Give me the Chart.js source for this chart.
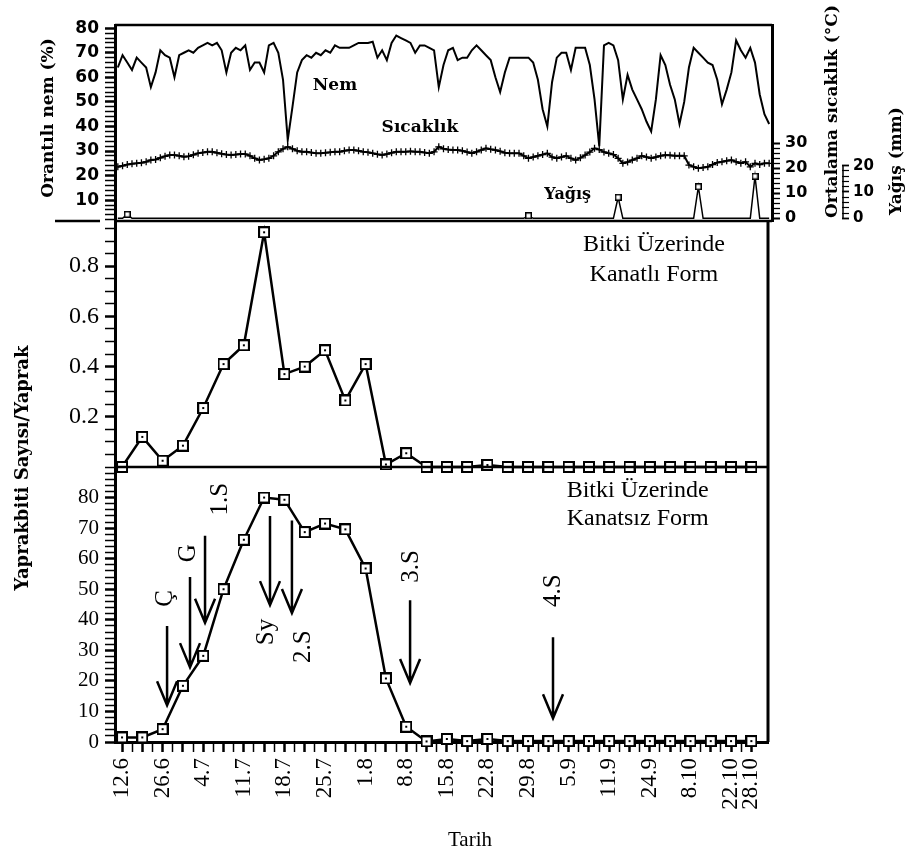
<!DOCTYPE html>
<html>
<head>
<meta charset="utf-8">
<script src="https://cdn.jsdelivr.net/npm/chart.js@4.4.1/dist/chart.umd.min.js"></script>
<style>
  body { margin: 0; background: #fff; }
  #wrap { position: relative; width: 914px; height: 855px; }
  #wrap canvas { position: absolute; left: 0; top: 0; }
</style>
</head>
<body>
<div id="wrap">
  <canvas id="top" width="914" height="855"></canvas>
  <canvas id="mid" width="914" height="855"></canvas>
  <canvas id="bot" width="914" height="855"></canvas>
</div>
<script>
// daily weather, day 0 = 12.6, last day = 28.10
const nem = [
  64, 69, 66, 63, 68, 66, 64, 56, 62, 71,
  69, 68, 60, 69, 70, 71, 70, 72, 73, 74,
  73, 74, 71, 62, 70, 72, 71, 73, 63, 66,
  66, 62, 73, 74, 70, 59, 34.5, 48, 62, 67,
  69, 68, 70, 69, 71, 70, 73, 72, 72, 72,
  73, 74, 74, 74, 74.5, 68, 71, 67, 74, 77,
  76, 75, 74, 70, 73, 73, 72, 71, 56, 65,
  71, 72, 67, 68, 68, 71, 73, 71, 69, 67,
  60, 54, 62, 68, 68, 68, 68, 68, 66, 59,
  47, 40, 58, 68, 70, 70, 63, 72, 72, 72,
  65, 51, 32, 73, 74, 73, 67, 51, 61, 55,
  51, 47, 42, 38, 51, 69, 65, 57, 51, 41,
  50, 64, 72, 70, 68, 66, 65, 59, 49, 55,
  62, 75, 71, 68, 72, 66, 53, 45, 41
];
const sicaklik = [
  20.6, 21, 21.5, 21.8, 22, 22.2, 22.6, 23.3, 23.5, 24.2,
  24.8, 25.3, 25.3, 25, 24.6, 24.8, 25.4, 26, 26.3, 26.6,
  26.6, 26.2, 25.8, 25.5, 25.3, 25.5, 25.7, 25.7, 25, 24,
  23.3, 23.6, 24, 25, 26.6, 27.8, 28.6, 27.8, 27, 26.6,
  26.6, 26.3, 26, 26, 26.2, 26.4, 26.6, 26.6, 27, 27.3,
  27.3, 27, 26.6, 26.4, 26, 25.6, 25.3, 25.7, 26.2, 26.6,
  26.6, 26.6, 26.8, 26.6, 26.6, 26.3, 26, 26.6, 28.6, 27.8,
  27.5, 27.3, 27.3, 27, 26.5, 26, 26.6, 27.3, 28, 27.6,
  27.3, 26.8, 26.2, 26, 26, 26, 25, 24, 24.5, 25,
  25.5, 26, 24.5, 24, 24.5, 25, 24, 23.3, 24.2, 25.3,
  26.5, 28, 27.5, 26.5, 26, 25.5, 24, 22, 22.5, 23.3,
  24, 25, 24.5, 24, 24.5, 25, 25.3, 25.2, 25, 25,
  25, 21.3, 20.6, 20, 20.3, 20.6, 21.5, 22.3, 22.6, 23,
  23.3, 22.6, 22, 22.6, 20.6, 22, 21.5, 22, 22
];
const yagisGun = [2, 87, 106, 123, 135];
const yagisMm = [1.5, 1, 8, 12, 16];

// aphid counts per sampling date
const tarihler = ['12.6', '', '26.6', '', '4.7', '', '11.7', '', '18.7', '', '25.7', '', '1.8', '', '8.8', '',
  '15.8', '', '22.8', '', '29.8', '', '5.9', '', '11.9', '', '24.9', '', '8.10', '', '22.10', '28.10'];
const kanatli = [0, 0.12, 0.025, 0.085, 0.235, 0.41, 0.485, 0.935, 0.37, 0.4, 0.465, 0.265, 0.41, 0.01, 0.055, 0,
  0, 0, 0.008, 0, 0, 0, 0, 0, 0, 0, 0, 0, 0, 0, 0, 0];
const kanatsiz = [1.5, 1.5, 4.2, 18.4, 28.2, 50, 66.2, 80, 79.3, 68.7, 71.5, 69.6, 56.8, 20.8, 5, 0.2,
  1, 0.3, 1, 0.3, 0.3, 0.3, 0.3, 0.3, 0.3, 0.3, 0.3, 0.3, 0.3, 0.3, 0.3, 0.3];

// spraying / event arrows (x in sample index, y in counts)
const okEtiket = ['Ç', 'G', '1.S', 'Sy', '2.S', '3.S', '4.S'];
const okX = [2.22, 3.35, 4.09, 7.29, 8.37, 14.19, 21.23];
const okUst = [38, 54, 67.5, 74, 72.5, 46.4, 34.3];
const okUc = [12, 24.5, 39, 44.8, 42.2, 19.3, 7.8];
const etiketX = [2.12, 3.25, 4.83, 7.09, 8.92, 14.24, 21.23];
const etiketY = [47, 61.8, 79.5, 36, 31.2, 57.5, 49.5];

const nemTicks = [10, 20, 30, 40, 50, 60, 70, 80];
const sicTicks = [0, 10, 20, 30];
const yagisTicks = [0, 10, 20];
const kanatliTicks = [0.2, 0.4, 0.6, 0.8];
const kanatsizTicks = [0, 10, 20, 30, 40, 50, 60, 70, 80];

Chart.defaults.color = '#000';
Chart.defaults.font.family = 'Liberation Serif';

const serif = 'Liberation Serif';
const bmp = 'DejaVu Serif';

function steps(a, b, n) {
  const out = [];
  for (let k = a; k <= b; k++) out.push(k / n);
  return out;
}

function makeBox(s, lw, dot) {
  const c = document.createElement('canvas');
  c.width = s; c.height = s;
  const g = c.getContext('2d');
  g.fillStyle = '#fff';
  g.fillRect(0, 0, s, s);
  g.strokeStyle = '#000';
  g.lineWidth = lw;
  g.strokeRect(lw / 2, lw / 2, s - lw, s - lw);
  if (dot) {
    g.fillStyle = '#000';
    g.fillRect(s / 2 - 1, s / 2 - 1, 2, 2);
  }
  return c;
}
const bigBox = makeBox(12, 2, true);
const smallBox = makeBox(7, 1.5, false);

function txt(ctx, s, x, y, font, align, rot) {
  ctx.save();
  ctx.translate(x, y);
  if (rot) ctx.rotate(rot);
  ctx.font = font;
  ctx.textAlign = align || 'center';
  ctx.textBaseline = 'middle';
  ctx.fillStyle = '#000';
  ctx.fillText(s, 0, 0);
  ctx.restore();
}

function line(ctx, x1, y1, x2, y2, w) {
  ctx.save();
  ctx.strokeStyle = '#000';
  ctx.lineWidth = w;
  ctx.beginPath();
  ctx.moveTo(x1, y1);
  ctx.lineTo(x2, y2);
  ctx.stroke();
  ctx.restore();
}

function leftAxis(min, max, tickVals, labels, font, fmt) {
  return {
    position: 'left', min: min, max: max,
    afterFit: s => { s.width = 115; },
    afterBuildTicks: s => { s.ticks = tickVals.map(v => ({ value: v })); },
    ticks: {
      autoSkip: false, padding: 6, font: font,
      callback: v => labels.includes(v) ? fmt(v) : ''
    },
    grid: {
      drawOnChartArea: false, tickLength: 10, tickColor: '#000',
      tickWidth: c => labels.includes(c.tick.value) ? 2.5 : 1.5
    },
    border: { width: 3, color: '#000' }
  };
}

const base = {
  responsive: false,
  animation: false,
  events: [],
  plugins: { legend: { display: false }, tooltip: { enabled: false } }
};

// ---- top panel: humidity, temperature, rain ----
const topDecor = {
  id: 'topDecor',
  afterDraw(chart) {
    const ctx = chart.ctx, a = chart.chartArea, s = chart.scales;
    line(ctx, a.left, a.top, a.right, a.top, 2.5);
    line(ctx, a.left, a.bottom, a.right, a.bottom, 2.5);
    line(ctx, 55, a.bottom, 100, a.bottom, 2.5);
    line(ctx, s.yR.left + 1, s.yR.getPixelForValue(0), s.yR.left + 1, s.yR.getPixelForValue(20), 1.5);
    const f = 'bold 17px "' + bmp + '"';
    txt(ctx, 'Nem', s.x.getPixelForValue(46), s.y.getPixelForValue(56.6), f);
    txt(ctx, 'Sıcaklık', s.x.getPixelForValue(64), s.y.getPixelForValue(39.5), f);
    txt(ctx, 'Yağış', s.x.getPixelForValue(95.3), s.y.getPixelForValue(12.2), 'bold 16px "' + bmp + '"');
    txt(ctx, 'Orantılı nem (%)', 49, (a.top + a.bottom) / 2 - 5, 'bold 17px "' + bmp + '"', 'center', -Math.PI / 2);
    txt(ctx, 'Ortalama sıcaklık (°C)', s.yT.right - 9, a.bottom - 3, 'bold 17px "' + bmp + '"', 'left', -Math.PI / 2);
    txt(ctx, 'Yağış (mm)', s.yR.right - 17, a.bottom - 6, 'bold 17px "' + bmp + '"', 'left', -Math.PI / 2);
  }
};

const yagisGunluk = nem.map((_, i) => {
  const k = yagisGun.indexOf(i);
  return k >= 0 ? yagisMm[k] : 0;
});

new Chart(document.getElementById('top'), {
  type: 'line',
  data: {
    datasets: [
      {
        data: nem.map((v, i) => ({ x: i, y: v })), yAxisID: 'y',
        borderColor: '#000', borderWidth: 2, pointRadius: 0, clip: false
      },
      {
        data: sicaklik.map((v, i) => ({ x: i, y: v })), yAxisID: 'yT',
        borderColor: '#000', borderWidth: 2, pointStyle: 'cross', pointRadius: 3.5,
        pointBorderWidth: 1.3, pointBorderColor: '#000', clip: false
      },
      {
        data: yagisGunluk.map((v, i) => ({ x: i, y: v })), yAxisID: 'yR',
        borderColor: '#000', borderWidth: 1.5, pointStyle: smallBox,
        pointRadius: c => (c.raw && c.raw.y > 0) ? 3 : 0, clip: false
      }
    ]
  },
  options: Object.assign({}, base, {
    layout: { padding: { top: 25, bottom: 634, left: 0, right: 0 } },
    scales: {
      x: { type: 'linear', min: -0.6, max: 138.6, display: false },
      y: leftAxis(1.5, 81.3, steps(1, 40, 0.5), nemTicks,
        { family: 'DejaVu Sans', weight: 'bold', size: 17 }, v => String(v)),
      yT: {
        position: 'right', min: -1.08, max: 77.3,
        afterFit: s => { s.width = 70; },
        afterBuildTicks: s => { s.ticks = steps(0, 15, 0.5).map(v => ({ value: v })); },
        ticks: {
          autoSkip: false, padding: 5, font: { family: 'DejaVu Sans', weight: 'bold', size: 16 },
          callback: v => sicTicks.includes(v) ? String(v) : ''
        },
        grid: {
          drawOnChartArea: false, tickLength: 8, tickColor: '#000',
          tickWidth: c => sicTicks.includes(c.tick.value) ? 2 : 1.3
        },
        border: { width: 3, color: '#000' }
      },
      yR: {
        position: 'right', min: -1.03, max: 73.5,
        afterFit: s => { s.width = 72; },
        afterBuildTicks: s => { s.ticks = steps(0, 10, 0.5).map(v => ({ value: v })); },
        ticks: {
          autoSkip: false, padding: 4, font: { family: 'DejaVu Sans', weight: 'bold', size: 15 },
          callback: v => yagisTicks.includes(v) ? String(v) : ''
        },
        grid: {
          drawOnChartArea: false, tickLength: 7, tickColor: '#000',
          tickWidth: c => yagisTicks.includes(c.tick.value) ? 1.8 : 1.2
        },
        border: { display: false }
      }
    }
  }),
  plugins: [topDecor]
});

// ---- middle panel: winged form ----
const midDecor = {
  id: 'midDecor',
  afterDraw(chart) {
    const ctx = chart.ctx, a = chart.chartArea, s = chart.scales;
    line(ctx, a.left, a.bottom, a.right, a.bottom, 2.5);
    line(ctx, a.right, a.top, a.right, a.bottom, 3);
    const f = '24px "' + serif + '"';
    txt(ctx, 'Bitki Üzerinde', s.x.getPixelForValue(26.2), s.y.getPixelForValue(0.884), f);
    txt(ctx, 'Kanatlı Form', s.x.getPixelForValue(26.2), s.y.getPixelForValue(0.765), f);
  }
};

const pointsStyle = {
  borderColor: '#000', borderWidth: 2.5, pointStyle: bigBox, pointRadius: 5, clip: false
};

new Chart(document.getElementById('mid'), {
  type: 'line',
  data: {
    datasets: [Object.assign({ data: kanatli.map((v, i) => ({ x: i, y: v })) }, pointsStyle)]
  },
  options: Object.assign({}, base, {
    layout: { padding: { top: 221, bottom: 388, left: 0, right: 146 } },
    scales: {
      x: { type: 'linear', min: -0.345, max: 31.82, display: false },
      y: leftAxis(0, 0.98, steps(0, 19, 20), kanatliTicks,
        { family: serif, size: 24 }, v => v.toFixed(1))
    }
  }),
  plugins: [midDecor]
});

// ---- bottom panel: wingless form ----
const botDecor = {
  id: 'botDecor',
  afterDraw(chart) {
    const ctx = chart.ctx, a = chart.chartArea, s = chart.scales;
    line(ctx, a.right, a.top, a.right, a.bottom, 3);
    const f = '24px "' + serif + '"';
    txt(ctx, 'Bitki Üzerinde', s.x.getPixelForValue(25.4), s.y.getPixelForValue(82.4), f);
    txt(ctx, 'Kanatsız Form', s.x.getPixelForValue(25.4), s.y.getPixelForValue(73.2), f);
    ctx.save();
    ctx.strokeStyle = '#000';
    ctx.lineWidth = 2.5;
    for (let i = 0; i < okEtiket.length; i++) {
      const x = s.x.getPixelForValue(okX[i]);
      const y1 = s.y.getPixelForValue(okUst[i]);
      const y2 = s.y.getPixelForValue(okUc[i]);
      ctx.beginPath();
      ctx.moveTo(x, y1);
      ctx.lineTo(x, y2);
      ctx.moveTo(x - 10, y2 - 24);
      ctx.lineTo(x, y2);
      ctx.lineTo(x + 10, y2 - 24);
      ctx.stroke();
      txt(ctx, okEtiket[i], s.x.getPixelForValue(etiketX[i]), s.y.getPixelForValue(etiketY[i]),
        '25px "' + serif + '"', 'center', -Math.PI / 2);
    }
    ctx.restore();
    txt(ctx, 'Yaprakbiti Sayısı/Yaprak', 23, 468, 'bold 18px "' + bmp + '"', 'center', -Math.PI / 2);
    txt(ctx, 'Tarih', 470, 840, '21px "' + serif + '"');
  }
};

new Chart(document.getElementById('bot'), {
  type: 'line',
  data: {
    datasets: [Object.assign({ data: kanatsiz.map((v, i) => ({ x: i, y: v })) }, pointsStyle)]
  },
  options: Object.assign({}, base, {
    layout: { padding: { top: 467, bottom: 0, left: 0, right: 146 } },
    scales: {
      x: {
        type: 'linear', min: -0.345, max: 31.82,
        afterFit: s => { s.height = 113; },
        afterBuildTicks: s => { s.ticks = steps(0, 62, 2).map(v => ({ value: v })); },
        ticks: {
          autoSkip: false, minRotation: 90, maxRotation: 90, padding: 6,
          font: { family: serif, size: 23 },
          callback: v => Number.isInteger(v) ? tarihler[v] : ''
        },
        grid: {
          drawOnChartArea: false, tickLength: 10, tickColor: '#000',
          tickWidth: c => Number.isInteger(c.tick.value) ? 2.5 : 1.5
        },
        border: { width: 3, color: '#000' }
      },
      y: leftAxis(0, 90, steps(0, 44, 0.5), kanatsizTicks,
        { family: serif, size: 21 }, v => String(v))
    }
  }),
  plugins: [botDecor]
});
</script>
</body>
</html>
